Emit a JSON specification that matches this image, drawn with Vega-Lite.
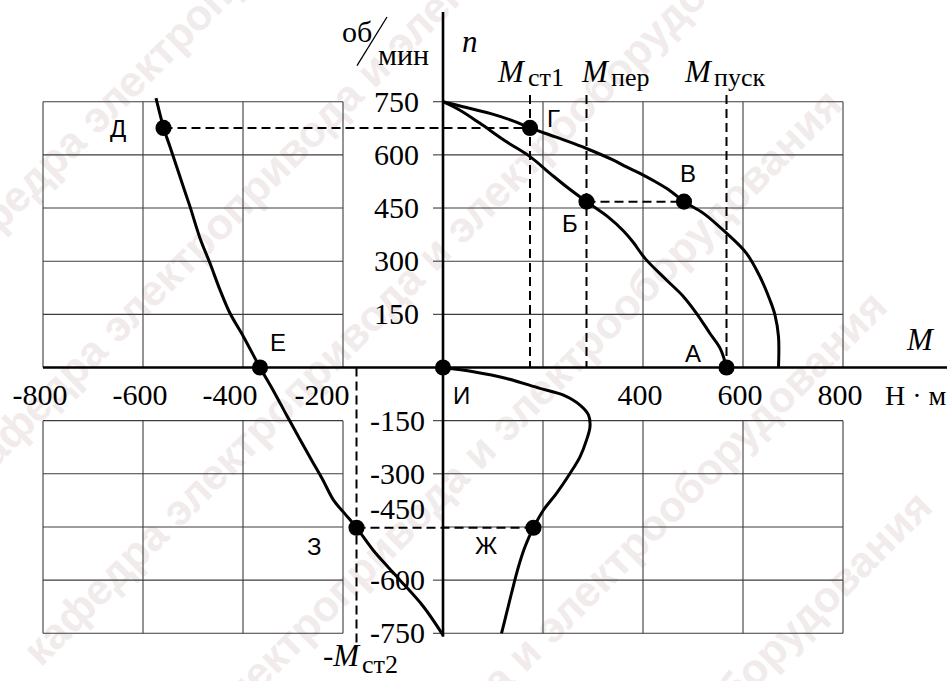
{
  "$schema": "https://vega.github.io/schema/vega-lite/v6.json",
  "width": 947,
  "height": 681,
  "padding": 0,
  "autosize": {"type": "none"},
  "background": "white",
  "config": {"view": {"stroke": null}},
  "datasets": {
    "stamp": [
      {"t": "кафедра электропривода и электрооборудования", "x": -987, "n": 288},
      {"t": "кафедра электропривода и электрооборудования", "x": -945, "n": -302},
      {"t": "кафедра электропривода и электрооборудования", "x": -823, "n": -821},
      {"t": "кафедра электропривода и электрооборудования", "x": -733, "n": -1380},
      {"t": "кафедра электропривода и электрооборудования", "x": -643, "n": -1950},
      {"t": "кафедра электропривода и электрооборудования", "x": -553, "n": -2514}
    ],
    "grid": [
      {"x": -800, "n": 750, "x2": -200, "n2": 750}, {"x": 0, "n": 750, "x2": 800, "n2": 750},
      {"x": -800, "n": 600, "x2": -200, "n2": 600}, {"x": 0, "n": 600, "x2": 800, "n2": 600},
      {"x": -800, "n": 450, "x2": -200, "n2": 450}, {"x": 0, "n": 450, "x2": 800, "n2": 450},
      {"x": -800, "n": 300, "x2": -200, "n2": 300}, {"x": 0, "n": 300, "x2": 800, "n2": 300},
      {"x": -800, "n": 150, "x2": -200, "n2": 150}, {"x": 0, "n": 150, "x2": 800, "n2": 150},
      {"x": -800, "n": -150, "x2": -200, "n2": -150}, {"x": 0, "n": -150, "x2": 800, "n2": -150},
      {"x": -800, "n": -300, "x2": -200, "n2": -300}, {"x": 0, "n": -300, "x2": 800, "n2": -300},
      {"x": -800, "n": -450, "x2": -200, "n2": -450}, {"x": 0, "n": -450, "x2": 800, "n2": -450},
      {"x": -800, "n": -600, "x2": -200, "n2": -600}, {"x": 0, "n": -600, "x2": 800, "n2": -600},
      {"x": -800, "n": -750, "x2": -200, "n2": -750}, {"x": 0, "n": -750, "x2": 800, "n2": -750},
      {"x": -800, "n": 0, "x2": -800, "n2": 750}, {"x": -800, "n": -150, "x2": -800, "n2": -750},
      {"x": -600, "n": 0, "x2": -600, "n2": 750}, {"x": -600, "n": -150, "x2": -600, "n2": -750},
      {"x": -400, "n": 0, "x2": -400, "n2": 750}, {"x": -400, "n": -150, "x2": -400, "n2": -750},
      {"x": -200, "n": 0, "x2": -200, "n2": 750}, {"x": -200, "n": -150, "x2": -200, "n2": -750},
      {"x": 200, "n": 0, "x2": 200, "n2": 750}, {"x": 200, "n": -150, "x2": 200, "n2": -750},
      {"x": 400, "n": 0, "x2": 400, "n2": 750}, {"x": 400, "n": -150, "x2": 400, "n2": -750},
      {"x": 600, "n": 0, "x2": 600, "n2": 750}, {"x": 600, "n": -150, "x2": 600, "n2": -750},
      {"x": 800, "n": 0, "x2": 800, "n2": 750}, {"x": 800, "n": -150, "x2": 800, "n2": -750},
      {"x": -20, "n": 750, "x2": 0, "n2": 750}, {"x": -20, "n": 600, "x2": 0, "n2": 600},
      {"x": -20, "n": 450, "x2": 0, "n2": 450}, {"x": -20, "n": 300, "x2": 0, "n2": 300},
      {"x": -20, "n": 150, "x2": 0, "n2": 150}, {"x": -20, "n": -150, "x2": 0, "n2": -150},
      {"x": -20, "n": -300, "x2": 0, "n2": -300}, {"x": -20, "n": -600, "x2": 0, "n2": -600},
      {"x": -20, "n": -750, "x2": 0, "n2": -750}
    ],
    "yticks": [
      {"x": 0, "n": 750, "label": "750"}, {"x": 0, "n": 600, "label": "600"}, {"x": 0, "n": 450, "label": "450"},
      {"x": 0, "n": 300, "label": "300"}, {"x": 0, "n": 150, "label": "150"},
      {"x": 0, "n": -150, "label": "-150"}, {"x": 0, "n": -300, "label": "-300"}, {"x": 0, "n": -450, "label": "-450"},
      {"x": 0, "n": -600, "label": "-600"}, {"x": 0, "n": -750, "label": "-750"}
    ],
    "xlabels": [
      {"x": -800, "n": -106, "label": "-800"}, {"x": -600, "n": -106, "label": "-600"},
      {"x": -400, "n": -106, "label": "-400"}, {"x": -200, "n": -106, "label": "-200"},
      {"x": 400, "n": -106, "label": "400"}, {"x": 600, "n": -106, "label": "600"}, {"x": 800, "n": -106, "label": "800"}
    ],
    "axes": [
      {"x": -800, "n": 0, "x2": 1008, "n2": 0},
      {"x": 0, "n": 1003, "x2": 0, "n2": -760}
    ],
    "guides": [
      {"x": -559, "n": 676, "x2": 174, "n2": 676},
      {"x": 174, "n": 769, "x2": 174, "n2": 0},
      {"x": 287, "n": 769, "x2": 287, "n2": 0},
      {"x": 567, "n": 769, "x2": 567, "n2": 0},
      {"x": 287, "n": 468, "x2": 482, "n2": 468},
      {"x": -173, "n": -452, "x2": 181, "n2": -452},
      {"x": -173, "n": 0, "x2": -173, "n2": -790}
    ],
    "curves": [
      {"c": "outer", "i": 0, "x": 0, "n": 750},
      {"c": "outer", "i": 1, "x": 40, "n": 736},
      {"c": "outer", "i": 2, "x": 94, "n": 717},
      {"c": "outer", "i": 3, "x": 140, "n": 696},
      {"c": "outer", "i": 4, "x": 174, "n": 676},
      {"c": "outer", "i": 5, "x": 214, "n": 656},
      {"c": "outer", "i": 6, "x": 250, "n": 638},
      {"c": "outer", "i": 7, "x": 287, "n": 618},
      {"c": "outer", "i": 8, "x": 341, "n": 585},
      {"c": "outer", "i": 9, "x": 367, "n": 566},
      {"c": "outer", "i": 10, "x": 394, "n": 548},
      {"c": "outer", "i": 11, "x": 425, "n": 524},
      {"c": "outer", "i": 12, "x": 454, "n": 499},
      {"c": "outer", "i": 13, "x": 482, "n": 468},
      {"c": "outer", "i": 14, "x": 521, "n": 435},
      {"c": "outer", "i": 15, "x": 567, "n": 379},
      {"c": "outer", "i": 16, "x": 607, "n": 322},
      {"c": "outer", "i": 17, "x": 634, "n": 256},
      {"c": "outer", "i": 18, "x": 654, "n": 190},
      {"c": "outer", "i": 19, "x": 664, "n": 148},
      {"c": "outer", "i": 20, "x": 671, "n": 87},
      {"c": "outer", "i": 21, "x": 671, "n": 0},
      {"c": "inner", "i": 0, "x": 0, "n": 750},
      {"c": "inner", "i": 1, "x": 34, "n": 726},
      {"c": "inner", "i": 2, "x": 74, "n": 689},
      {"c": "inner", "i": 3, "x": 127, "n": 637},
      {"c": "inner", "i": 4, "x": 174, "n": 595},
      {"c": "inner", "i": 5, "x": 214, "n": 548},
      {"c": "inner", "i": 6, "x": 247, "n": 510},
      {"c": "inner", "i": 7, "x": 287, "n": 468},
      {"c": "inner", "i": 8, "x": 330, "n": 425},
      {"c": "inner", "i": 9, "x": 362, "n": 384},
      {"c": "inner", "i": 10, "x": 380, "n": 354},
      {"c": "inner", "i": 11, "x": 404, "n": 308},
      {"c": "inner", "i": 12, "x": 447, "n": 247},
      {"c": "inner", "i": 13, "x": 481, "n": 200},
      {"c": "inner", "i": 14, "x": 507, "n": 153},
      {"c": "inner", "i": 15, "x": 534, "n": 96},
      {"c": "inner", "i": 16, "x": 555, "n": 52},
      {"c": "inner", "i": 17, "x": 567, "n": 0},
      {"c": "left", "i": 0, "x": -574, "n": 760},
      {"c": "left", "i": 1, "x": -563, "n": 698},
      {"c": "left", "i": 2, "x": -559, "n": 676},
      {"c": "left", "i": 3, "x": -546, "n": 623},
      {"c": "left", "i": 4, "x": -526, "n": 538},
      {"c": "left", "i": 5, "x": -506, "n": 454},
      {"c": "left", "i": 6, "x": -486, "n": 365},
      {"c": "left", "i": 7, "x": -466, "n": 294},
      {"c": "left", "i": 8, "x": -446, "n": 219},
      {"c": "left", "i": 9, "x": -426, "n": 153},
      {"c": "left", "i": 10, "x": -399, "n": 87},
      {"c": "left", "i": 11, "x": -366, "n": 0},
      {"c": "left", "i": 12, "x": -339, "n": -66},
      {"c": "left", "i": 13, "x": -313, "n": -134},
      {"c": "left", "i": 14, "x": -286, "n": -203},
      {"c": "left", "i": 15, "x": -263, "n": -261},
      {"c": "left", "i": 16, "x": -240, "n": -318},
      {"c": "left", "i": 17, "x": -219, "n": -374},
      {"c": "left", "i": 18, "x": -196, "n": -413},
      {"c": "left", "i": 19, "x": -173, "n": -452},
      {"c": "left", "i": 20, "x": -140, "n": -515},
      {"c": "left", "i": 21, "x": -110, "n": -563},
      {"c": "left", "i": 22, "x": -86, "n": -600},
      {"c": "left", "i": 23, "x": -39, "n": -675},
      {"c": "left", "i": 24, "x": 0, "n": -755},
      {"c": "brake", "i": 0, "x": 0, "n": 0},
      {"c": "brake", "i": 1, "x": 61, "n": -12},
      {"c": "brake", "i": 2, "x": 127, "n": -31},
      {"c": "brake", "i": 3, "x": 194, "n": -59},
      {"c": "brake", "i": 4, "x": 241, "n": -78},
      {"c": "brake", "i": 5, "x": 274, "n": -106},
      {"c": "brake", "i": 6, "x": 291, "n": -134},
      {"c": "brake", "i": 7, "x": 294, "n": -167},
      {"c": "brake", "i": 8, "x": 287, "n": -205},
      {"c": "brake", "i": 9, "x": 274, "n": -252},
      {"c": "brake", "i": 10, "x": 254, "n": -299},
      {"c": "brake", "i": 11, "x": 227, "n": -355},
      {"c": "brake", "i": 12, "x": 201, "n": -402},
      {"c": "brake", "i": 13, "x": 181, "n": -452},
      {"c": "brake", "i": 14, "x": 164, "n": -506},
      {"c": "brake", "i": 15, "x": 151, "n": -562},
      {"c": "brake", "i": 16, "x": 137, "n": -637},
      {"c": "brake", "i": 17, "x": 127, "n": -694},
      {"c": "brake", "i": 18, "x": 117, "n": -750}
    ],
    "points": [
      {"name": "Д", "x": -559, "n": 676},
      {"name": "Г", "x": 174, "n": 676},
      {"name": "В", "x": 482, "n": 468},
      {"name": "Б", "x": 287, "n": 468},
      {"name": "А", "x": 567, "n": 0},
      {"name": "Е", "x": -366, "n": 0},
      {"name": "И", "x": 0, "n": 0},
      {"name": "З", "x": -173, "n": -452},
      {"name": "Ж", "x": 181, "n": -452}
    ],
    "letters": [
      {"label": "Д", "x": -666, "n": 650},
      {"label": "Г", "x": 208, "n": 679},
      {"label": "В", "x": 474, "n": 523},
      {"label": "Б", "x": 238, "n": 382},
      {"label": "А", "x": 484, "n": 15},
      {"label": "Е", "x": -346, "n": 47},
      {"label": "И", "x": 20, "n": -103},
      {"label": "З", "x": -272, "n": -529},
      {"label": "Ж", "x": 64, "n": -526}
    ],
    "symbols": [
      {"t": "n", "x": 38, "n": 890},
      {"t": "M", "x": 110, "n": 805},
      {"t": "M", "x": 278, "n": 805},
      {"t": "M", "x": 484, "n": 805},
      {"t": "M", "x": 928, "n": 49},
      {"t": "-M", "x": -240, "n": -842}
    ],
    "subscripts": [
      {"t": "ст1", "x": 170, "n": 794},
      {"t": "пер", "x": 336, "n": 794},
      {"t": "пуск", "x": 542, "n": 794},
      {"t": "ст2", "x": -162, "n": -862}
    ],
    "speedUnit": [
      {"t": "об", "x": -202, "n": 918},
      {"t": "мин", "x": -130, "n": 853}
    ],
    "torqueUnit": [
      {"t": "Н · м", "x": 884, "n": -106}
    ],
    "slash": [{"x": -172, "n": 852, "x2": -112, "n2": 989}]
  },
  "encoding": {
    "x": {"field": "x", "type": "quantitative", "scale": {"domain": [-886, 1008], "nice": false, "zero": false}, "axis": null},
    "y": {"field": "n", "type": "quantitative", "scale": {"domain": [-884.6, 1037], "nice": false, "zero": false}, "axis": null}
  },
  "layer": [
    {
      "data": {"name": "stamp"},
      "mark": {"type": "text", "font": "Liberation Sans", "fontWeight": "bold", "fontSize": 43, "angle": -45, "align": "left", "baseline": "middle", "color": "#f1ebeb"},
      "encoding": {"text": {"field": "t"}}
    },
    {
      "data": {"name": "grid"},
      "mark": {"type": "rule", "color": "#3c3c3c", "strokeWidth": 1.1},
      "encoding": {"x2": {"field": "x2"}, "y2": {"field": "n2"}}
    },
    {
      "data": {"name": "axes"},
      "mark": {"type": "rule", "color": "black", "strokeWidth": 2.6},
      "encoding": {"x2": {"field": "x2"}, "y2": {"field": "n2"}}
    },
    {
      "data": {"name": "guides"},
      "mark": {"type": "rule", "color": "black", "strokeWidth": 2, "strokeDash": [9, 5]},
      "encoding": {"x2": {"field": "x2"}, "y2": {"field": "n2"}}
    },
    {
      "data": {"name": "curves"},
      "mark": {"type": "line", "color": "black", "strokeWidth": 3, "interpolate": "catmull-rom"},
      "encoding": {"detail": {"field": "c"}, "order": {"field": "i", "type": "quantitative"}}
    },
    {
      "data": {"name": "points"},
      "mark": {"type": "point", "filled": true, "color": "black", "opacity": 1, "size": 260}
    },
    {
      "data": {"name": "letters"},
      "mark": {"type": "text", "font": "Liberation Sans", "fontSize": 24, "align": "left", "baseline": "alphabetic", "color": "black"},
      "encoding": {"text": {"field": "label"}}
    },
    {
      "data": {"name": "xlabels"},
      "transform": [{"filter": "datum.x != -400 && datum.x != -200"}],
      "mark": {"type": "text", "font": "Liberation Serif", "fontSize": 30, "align": "center", "baseline": "alphabetic", "dx": -3, "color": "black"},
      "encoding": {"text": {"field": "label"}}
    },
    {
      "data": {"name": "xlabels"},
      "transform": [{"filter": "datum.x == -400"}],
      "mark": {"type": "text", "font": "Liberation Serif", "fontSize": 30, "align": "center", "baseline": "alphabetic", "dx": -13, "color": "black"},
      "encoding": {"text": {"field": "label"}}
    },
    {
      "data": {"name": "xlabels"},
      "transform": [{"filter": "datum.x == -200"}],
      "mark": {"type": "text", "font": "Liberation Serif", "fontSize": 30, "align": "center", "baseline": "alphabetic", "dx": -21, "color": "black"},
      "encoding": {"text": {"field": "label"}}
    },
    {
      "data": {"name": "yticks"},
      "transform": [{"filter": "datum.n > 0"}],
      "mark": {"type": "text", "font": "Liberation Serif", "fontSize": 30, "align": "right", "baseline": "alphabetic", "dx": -24, "dy": 10, "color": "black"},
      "encoding": {"text": {"field": "label"}}
    },
    {
      "data": {"name": "yticks"},
      "transform": [{"filter": "datum.n < 0 && datum.n != -450"}],
      "mark": {"type": "text", "font": "Liberation Serif", "fontSize": 30, "align": "right", "baseline": "alphabetic", "dx": -18, "dy": 10, "color": "black"},
      "encoding": {"text": {"field": "label"}}
    },
    {
      "data": {"name": "yticks"},
      "transform": [{"filter": "datum.n == -450"}],
      "mark": {"type": "text", "font": "Liberation Serif", "fontSize": 30, "align": "right", "baseline": "alphabetic", "dx": -18, "dy": -8, "color": "black"},
      "encoding": {"text": {"field": "label"}}
    },
    {
      "data": {"name": "symbols"},
      "mark": {"type": "text", "font": "Liberation Serif", "fontStyle": "italic", "fontSize": 31, "align": "left", "baseline": "alphabetic", "color": "black"},
      "encoding": {"text": {"field": "t"}}
    },
    {
      "data": {"name": "subscripts"},
      "mark": {"type": "text", "font": "Liberation Serif", "fontSize": 26, "align": "left", "baseline": "alphabetic", "color": "black"},
      "encoding": {"text": {"field": "t"}}
    },
    {
      "data": {"name": "speedUnit"},
      "mark": {"type": "text", "font": "Liberation Serif", "fontSize": 30, "align": "left", "baseline": "alphabetic", "color": "black"},
      "encoding": {"text": {"field": "t"}}
    },
    {
      "data": {"name": "torqueUnit"},
      "mark": {"type": "text", "font": "Liberation Serif", "fontSize": 28, "align": "left", "baseline": "alphabetic", "color": "black"},
      "encoding": {"text": {"field": "t"}}
    },
    {
      "data": {"name": "slash"},
      "mark": {"type": "rule", "color": "black", "strokeWidth": 1.3},
      "encoding": {"x2": {"field": "x2"}, "y2": {"field": "n2"}}
    }
  ]
}
